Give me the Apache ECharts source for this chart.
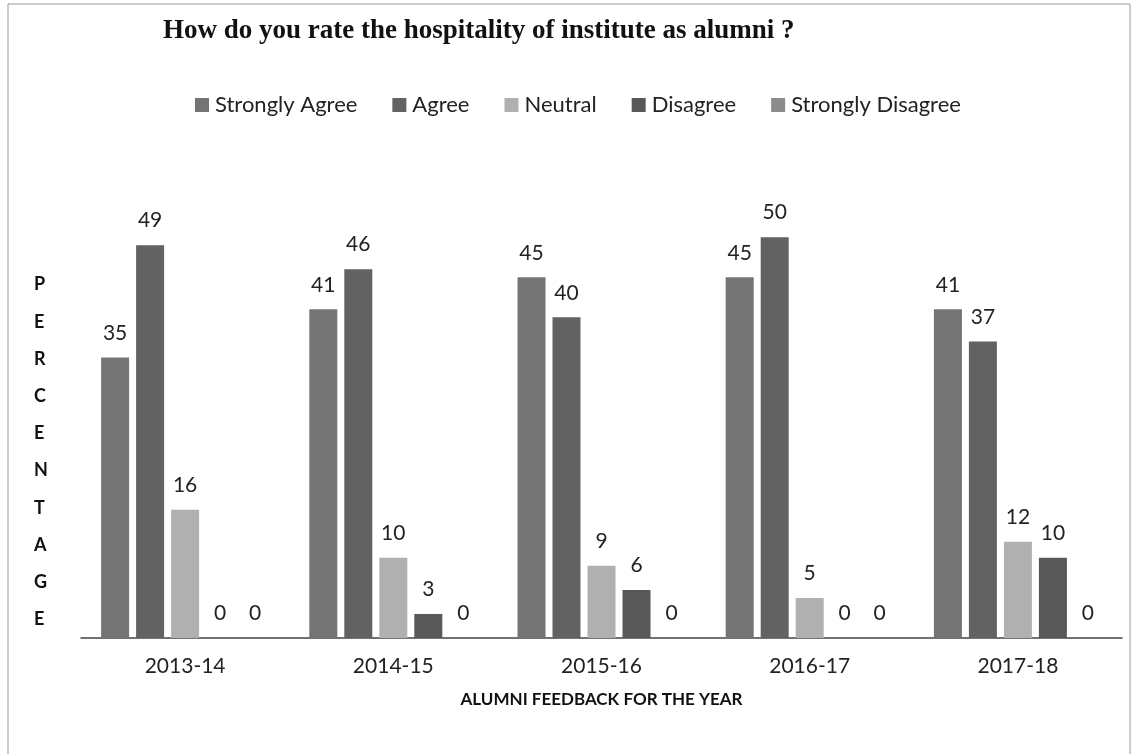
<!DOCTYPE html>
<html><head><meta charset="utf-8">
<script src="https://cdn.jsdelivr.net/npm/echarts@6/dist/echarts.min.js"></script>
<style>html,body{margin:0;padding:0;background:#fff}#c{width:1135px;height:754px}</style>
</head><body><div id="c"></div>
<script>
const categories = ['2013-14','2014-15','2015-16','2016-17','2017-18'];
const seriesNames = ['Strongly Agree','Agree','Neutral','Disagree','Strongly Disagree'];
const stronglyAgree = [35,41,45,45,41];
const agree = [49,46,40,50,37];
const neutral = [16,10,9,5,12];
const disagree = [0,3,6,0,10];
const stronglyDisagree = [0,0,0,0,0];
const colors = ['#747474','#626262','#b0b0b0','#585858','#8c8c8c'];
const values = [stronglyAgree, agree, neutral, disagree, stronglyDisagree];

const chart = echarts.init(document.getElementById('c'));
chart.setOption({
  animation:false,
  backgroundColor:'#fff',
  title:{text:'How do you rate the hospitality of institute as alumni ?',left:158,top:13,
    textStyle:{fontFamily:'Liberation Serif',fontWeight:'bold',fontSize:27,color:'#111'}},
  legend:{top:89,left:190,itemWidth:14,itemHeight:14,itemGap:35,icon:'rect',
    textStyle:{fontFamily:'Lato',fontSize:22,color:'#222',padding:[0,0,0,1]},data:seriesNames},
  grid:{left:81,right:13,top:157,bottom:116},
  xAxis:{type:'category',data:categories,
    axisLine:{lineStyle:{color:'#444',width:1.5}},axisTick:{show:false},
    axisLabel:{fontFamily:'Lato',fontSize:21,color:'#222',margin:18},
    name:'ALUMNI FEEDBACK FOR THE YEAR',nameLocation:'middle',nameGap:53,
    nameTextStyle:{fontFamily:'Lato',fontWeight:'bold',fontSize:17,color:'#111'}},
  yAxis:{type:'value',min:0,max:60,interval:10,show:true,
    axisLine:{show:false},axisTick:{show:false},axisLabel:{show:false},splitLine:{show:false}},
  graphic:[
    {type:'rect',shape:{x:8,y:4,width:1122,height:760},style:{fill:'none',stroke:'#999',lineWidth:1},silent:true},
    {type:'text',left:34,top:266,style:{text:'P\nE\nR\nC\nE\nN\nT\nA\nG\nE',fontFamily:'Lato',fontWeight:'bold',
      fontSize:18,lineHeight:37.2,fill:'#111',align:'center'}}
  ],
  series: seriesNames.map((n,i)=>({
    name:n,type:'bar',data:values[i],barWidth:28,barGap:'25%',
    itemStyle:{color:colors[i]},
    label:{show:true,position:'top',distance:14,fontFamily:'Lato',fontSize:21,color:'#222'}
  }))
});
</script></body></html>
